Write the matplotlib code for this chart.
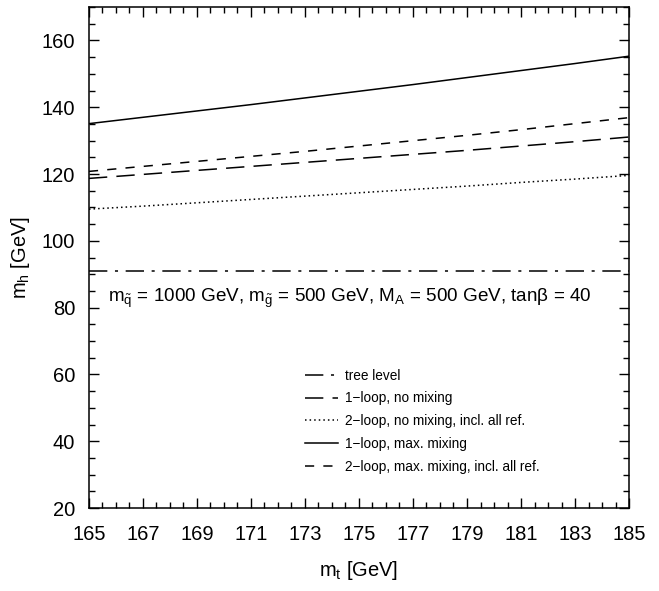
import matplotlib
matplotlib.use("Agg")
import matplotlib.pyplot as plt
from matplotlib.ticker import MultipleLocator

plt.rcParams['font.family'] = ['Liberation Sans', 'DejaVu Sans']
plt.rcParams['mathtext.fontset'] = 'custom'
plt.rcParams['mathtext.rm'] = 'Liberation Sans'
plt.rcParams['mathtext.it'] = 'Liberation Sans:italic'

# top mass grid and Higgs mass predictions
mt = [165, 167, 169, 171, 173, 175, 177, 179, 181, 183, 185]
mh_tree = [90.9] * len(mt)
mh_1loop_nomix = [118.7, 119.9, 121.1, 122.3, 123.5, 124.7, 125.9, 127.1, 128.4, 129.7, 131.1]
mh_2loop_nomix = [109.5, 110.4, 111.4, 112.4, 113.4, 114.4, 115.4, 116.4, 117.5, 118.5, 119.6]
mh_1loop_maxmix = [135.1, 137.0, 138.9, 140.8, 142.8, 144.8, 146.8, 148.9, 151.0, 153.1, 155.3]
mh_2loop_maxmix = [120.8, 122.3, 123.8, 125.3, 126.8, 128.4, 130.0, 131.6, 133.3, 135.1, 136.9]

fig = plt.figure(figsize=(6.59, 5.91), dpi=100)
ax = fig.add_axes([0.135, 0.1404, 0.8195, 0.8476])

lw = 1.1
ax.plot(mt, mh_tree, color='black', lw=lw, dashes=(12, 5, 2, 5), label='tree level')
ax.plot(mt, mh_1loop_nomix, color='black', lw=lw, dashes=(12, 6), label='1\u2212loop, no mixing')
ax.plot(mt, mh_2loop_nomix, color='black', lw=lw, dashes=(1, 2), label='2\u2212loop, no mixing, incl. all ref.')
ax.plot(mt, mh_1loop_maxmix, color='black', lw=lw, label='1\u2212loop, max. mixing')
ax.plot(mt, mh_2loop_maxmix, color='black', lw=lw, dashes=(6, 6), label='2\u2212loop, max. mixing, incl. all ref.')

ax.set_xlim(165, 185)
ax.set_ylim(20, 170)
ax.set_xticks(mt)
ax.xaxis.set_minor_locator(MultipleLocator(0.5))
ax.set_yticks([20, 40, 60, 80, 100, 120, 140, 160])
ax.yaxis.set_minor_locator(MultipleLocator(5))
ax.tick_params(which='both', direction='in', top=True, right=True, labelsize=14.5, width=1)
ax.tick_params(which='major', length=7)
ax.tick_params(which='minor', length=4)
ax.tick_params(axis='x', which='major', pad=12)
ax.tick_params(axis='y', which='major', pad=10)
for s in ax.spines.values():
    s.set_linewidth(1.1)

ax.set_xlabel(r'm$_{\rm t}$ [GeV]', fontsize=14.5, labelpad=11)
ax.set_ylabel(r'm$_{\rm h}$ [GeV]', fontsize=14.5, labelpad=7)

ax.text(165.7, 82.8,
        r'm$_{\tilde{\rm q}}$ = 1000 GeV, m$_{\tilde{\rm g}}$ = 500 GeV, '
        r'M$_{\rm A}$ = 500 GeV, tanβ = 40',
        fontsize=13.6, va='center', ha='left')

ax.legend(loc='upper left', bbox_to_anchor=(0.4, 0.278), frameon=False,
          borderpad=0, borderaxespad=0,
          fontsize=9.8, handlelength=2.45, handletextpad=0.5, labelspacing=0.64)

fig.savefig('out.png', dpi=100)
